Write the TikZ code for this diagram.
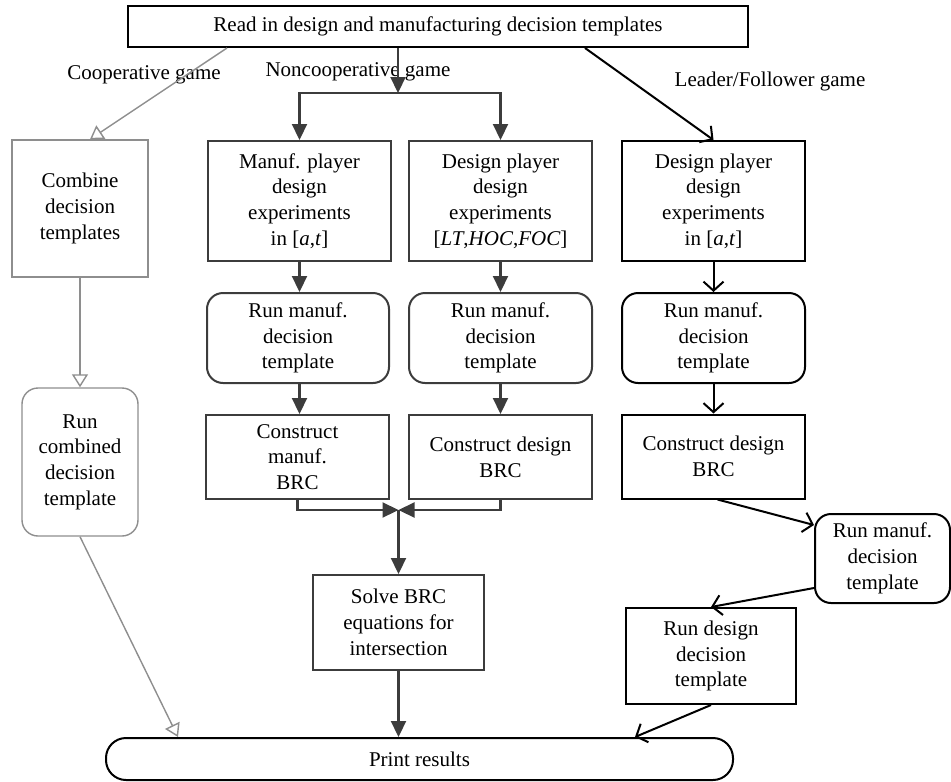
\documentclass[tikz,border=0pt]{standalone}
\usepackage{fontspec}
\setmainfont{Liberation Serif}
\usetikzlibrary{arrows.meta,calc}
\definecolor{dk}{HTML}{3C3C3C}
\definecolor{lg}{HTML}{8E8E8E}
\begin{document}
\begin{tikzpicture}[x=1pt,y=-1pt,
  txt/.style={font=\fontsize{21}{25.7}\selectfont, align=center, inner sep=0pt},
  bbox/.style={txt, draw=black, line width=2pt},
  dbox/.style={txt, draw=dk, line width=2pt},
  gbox/.style={txt, draw=lg, line width=1.4pt},
  rbox/.style={rounded corners=16pt},
  darrow/.style={draw=dk, line width=2.2pt, -{Triangle[length=16pt,width=15pt]}},
  dline/.style={draw=dk, line width=2.2pt},
  barrow/.style={draw=black, line width=2pt, -{Straight Barb[length=9pt,width=20pt,line width=2pt]}},
  garrow/.style={draw=lg, line width=1.4pt, -{Triangle[open,length=13pt,width=16pt,fill=white]}},
  lbl/.style={font=\fontsize{21}{25.7}\selectfont, inner sep=0pt}
]
\useasboundingbox (0,0) rectangle (951,782);

% --- nodes ---
\node[bbox, minimum width=620pt, minimum height=41pt] (top) at (438,26.5)
  {Read in design and manufacturing decision templates};

% game labels
\node[lbl] (lcoop) at (144,75) {Cooperative game};
\node[lbl] (lnon) at (358,72) {Noncooperative game};
\node[lbl] (llead) at (770,81) {Leader/Follower game};

% cooperative column
\node[gbox, minimum width=136pt, minimum height=137pt] (combine) at (80,208.5)
  {Combine\\decision\\templates};
\node[gbox, rbox, minimum width=116pt, minimum height=148pt] (runcomb) at (80,462)
  {Run\\combined\\decision\\template};

% noncooperative columns
\node[dbox, minimum width=183pt, minimum height=120pt] (manp) at (299.5,201)
  {Manuf. player\\design\\experiments\\in [\textit{a},\textit{t}]};
\node[dbox, minimum width=183pt, minimum height=120pt] (desp) at (500.5,201)
  {Design player\\design\\experiments\\{[}\textit{LT},\textit{HOC},\textit{FOC}]};
\node[dbox, rbox, minimum width=182pt, minimum height=90pt] (runm1) at (298,338)
  {Run manuf.\\decision\\template};
\node[dbox, rbox, minimum width=183pt, minimum height=90pt] (runm2) at (500.5,338)
  {Run manuf.\\decision\\template};
\node[dbox, minimum width=183pt, minimum height=84pt] (con1) at (297.5,457)
  {Construct\\manuf.\\BRC};
\node[dbox, minimum width=183pt, minimum height=84pt] (con2) at (500.5,457)
  {Construct design\\BRC};
\node[dbox, minimum width=171pt, minimum height=95pt] (solve) at (398.5,622.5)
  {Solve BRC\\equations for\\intersection};

% leader/follower column
\node[bbox, minimum width=183pt, minimum height=120pt] (ldesp) at (713.5,201)
  {Design player\\design\\experiments\\in [\textit{a},\textit{t}]};
\node[bbox, rbox, minimum width=183pt, minimum height=90pt] (runm3) at (713.5,338)
  {Run manuf.\\decision\\template};
\node[bbox, minimum width=183pt, minimum height=84pt] (con3) at (713.5,456.5)
  {Construct design\\BRC};
\node[bbox, rbox, minimum width=135pt, minimum height=89pt] (runm4) at (882.5,558.5)
  {Run manuf.\\decision\\template};
\node[bbox, minimum width=170pt, minimum height=96pt] (rundes) at (711,656)
  {Run design\\decision\\template};

% final node
\node[bbox, rounded corners=20pt, minimum width=627pt, minimum height=42pt] (print) at (419.5,759)
  {Print results};

% --- junctions ---
\coordinate (j1) at (398,93);
\coordinate (j2) at (398.5,510);

% --- cooperative connectors ---
\draw[garrow] ($(top.south west)+(100,0)$) -- ($(combine.north)+(10,0)$);
\draw[garrow] (combine.south) -- (runcomb.south |- runcomb.north);
\draw[garrow] (runcomb.south) -- ($(print.north west)+(73,0)$);

% --- noncooperative connectors ---
\draw[darrow] (top.south -| j1) -- (j1);
\draw[darrow] (j1) -| (manp.north);
\draw[darrow] (j1) -| (desp.north);
\draw[darrow] (manp) -- (runm1.north -| manp);
\draw[darrow] (desp) -- (runm2.north -| desp);
\draw[darrow] (runm1.south -| manp.south) -- (con1.north -| manp.south);
\draw[darrow] (runm2.south) -- (con2.north);
\draw[darrow] (con1.south) |- (j2);
\draw[darrow] (con2.south) |- (j2);
\draw[darrow] (j2) -- (solve.north);
\draw[darrow] (solve.south) -- (solve.south |- print.north);

% --- leader/follower connectors ---
\draw[barrow] ($(top.south west)+(458,0)$) -- (ldesp.north);
\draw[barrow] (ldesp.south) -- (runm3.north);
\draw[barrow] (runm3.south) -- (con3.north);
\draw[barrow] ($(con3.south)+(4,0)$) -- ($(runm4.north west)+(0,12)$);
\draw[barrow] ($(runm4.south west)+(0,-16)$) -- (rundes.north);
\draw[barrow] (rundes.south) -- ($(print.north east)+(-99,0)$);
\end{tikzpicture}
\end{document}
